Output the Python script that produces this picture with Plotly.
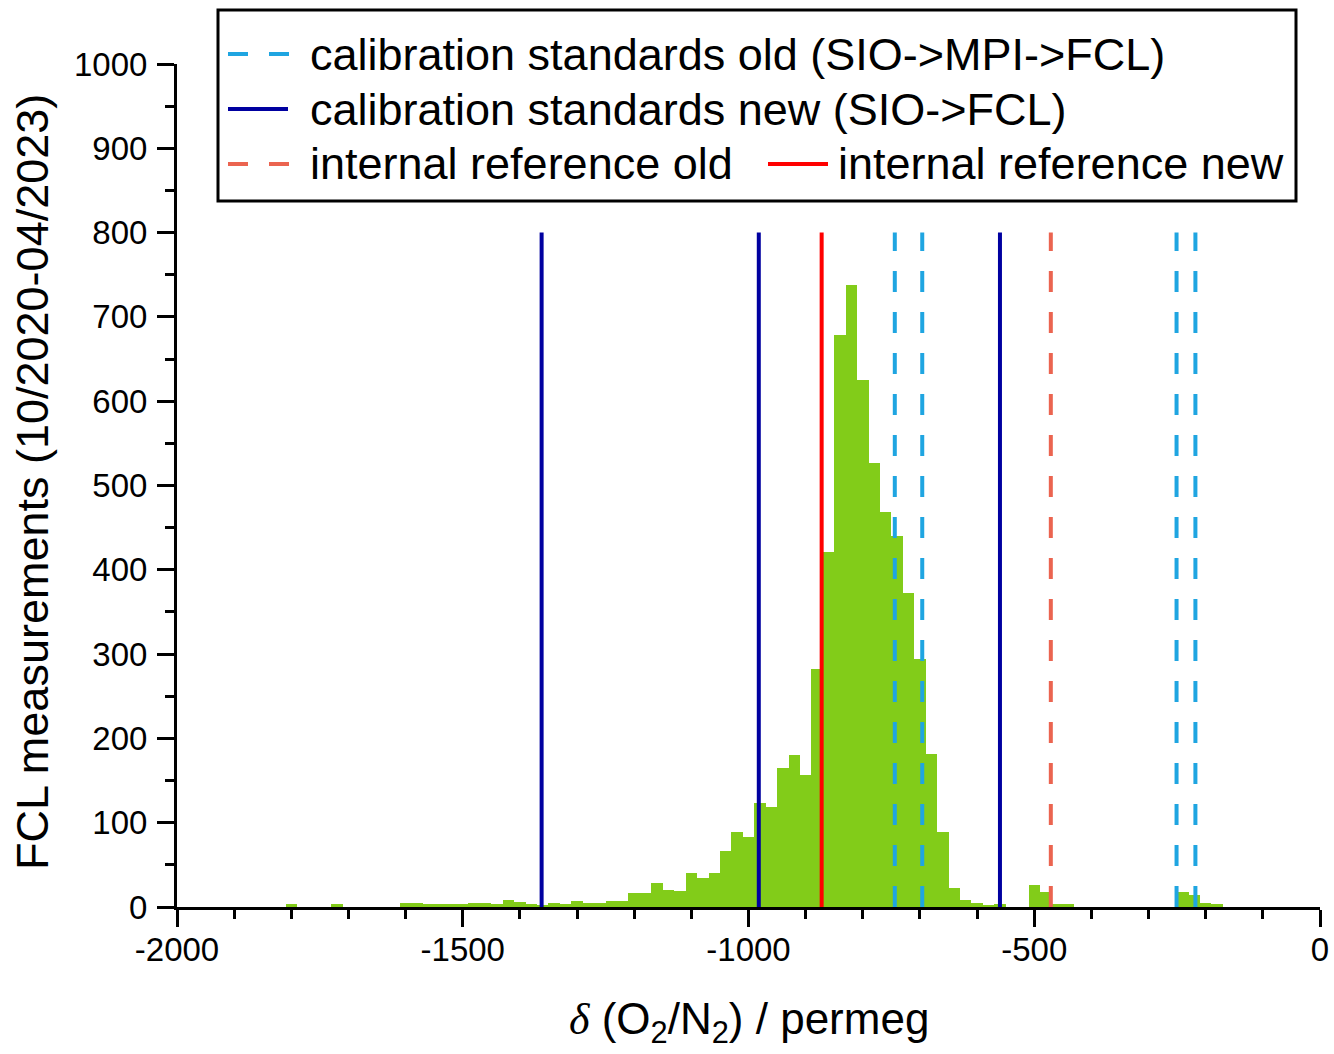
import plotly.graph_objects as go

# ---------------- data ----------------
bin_centers = [-1800, -1720, -1600, -1580, -1560, -1540, -1520, -1500, -1480, -1460,
               -1440, -1420, -1400, -1380, -1360, -1340, -1320, -1300, -1280, -1260,
               -1240, -1220, -1200, -1180, -1160, -1140, -1120, -1100, -1080, -1060,
               -1040, -1020, -1000, -980, -960, -940, -920, -900, -880, -860,
               -840, -820, -800, -780, -760, -740, -720, -700, -680, -660,
               -640, -620, -600, -580, -560, -500, -480, -460, -440,
               -240, -220, -200, -180]
counts = [3, 3, 5, 5, 3, 3, 3, 3, 5, 5,
          3, 8, 6, 3, 2, 5, 4, 7, 5, 5,
          7, 7, 17, 17, 29, 20, 19, 40, 35, 40,
          67, 89, 83, 123, 119, 165, 180, 156, 282, 421,
          678, 738, 625, 527, 469, 440, 373, 294, 182, 89,
          23, 8, 5, 2, 3, 26, 18, 3, 3,
          18, 14, 5, 3]
bin_width = 20

cal_old = [-744, -696, -251, -218]      # calibration standards old (SIO->MPI->FCL)
cal_new = [-1362, -982, -560]           # calibration standards new (SIO->FCL)
ref_old = [-471]                        # internal reference old
ref_new = [-872]                        # internal reference new
line_top = 800

x_tickvals = [-2000, -1500, -1000, -500, 0]
x_ticktext = ["-2000", "-1500", "-1000", "-500", "0"]
y_tickvals = [0, 100, 200, 300, 400, 500, 600, 700, 800, 900, 1000]
y_ticktext = [str(v) for v in y_tickvals]

legend_labels = ["calibration standards old (SIO->MPI->FCL)",
                 "calibration standards new (SIO->FCL)",
                 "internal reference old",
                 "internal reference new"]

# ---------------- style ----------------
GREEN = "#82CC19"
LIGHTBLUE = "#1FA5E1"
NAVY = "#0000A0"
SALMON = "#EB6450"
RED = "#FF0000"
FONT = "Liberation Sans, Arial, sans-serif"
DASH = "21px,20px"

W, H = 1334, 1054
ML, MR, MT, MB = 177, 14, 64, 147
PW, PH = W - ML - MR, H - MT - MB


def px_x(p):
    return (p - ML) / PW


def px_y(p):
    return (H - MB - p) / PH


fig = go.Figure()
fig.add_trace(go.Bar(x=bin_centers, y=counts, width=bin_width,
                     marker=dict(color=GREEN, line=dict(width=0)),
                     showlegend=False))


def vlines(vals, color, dash):
    for v in vals:
        fig.add_trace(go.Scatter(x=[v, v], y=[0, line_top], mode="lines",
                                 line=dict(color=color, width=4, dash=dash),
                                 showlegend=False, hoverinfo="skip"))


vlines(cal_new, NAVY, "solid")
vlines(ref_new, RED, "solid")
vlines(cal_old, LIGHTBLUE, DASH)
vlines(ref_old, SALMON, DASH)

# ---------------- manual legend ----------------
shapes = [dict(type="rect", xref="paper", yref="paper",
               x0=px_x(218), x1=px_x(1296), y0=px_y(201), y1=px_y(10),
               line=dict(color="black", width=3), fillcolor="white", layer="above")]
annotations = []
legend_items = [
    (legend_labels[0], LIGHTBLUE, "dash", 228, 308, 54),
    (legend_labels[1], NAVY, "solid", 228, 308, 109),
    (legend_labels[2], SALMON, "dash", 228, 308, 164),
    (legend_labels[3], RED, "solid", 768, 836, 164),
]
for text, color, style, lx, tx, ry in legend_items:
    if style == "dash":
        for a, b in [(lx, lx + 20), (lx + 41, lx + 61)]:
            shapes.append(dict(type="line", xref="paper", yref="paper",
                               x0=px_x(a), x1=px_x(b), y0=px_y(ry), y1=px_y(ry),
                               line=dict(color=color, width=4), layer="above"))
    else:
        shapes.append(dict(type="line", xref="paper", yref="paper",
                           x0=px_x(lx), x1=px_x(lx + 60), y0=px_y(ry), y1=px_y(ry),
                           line=dict(color=color, width=4), layer="above"))
    annotations.append(dict(text=text, xref="paper", yref="paper",
                            x=px_x(tx), y=px_y(ry), xanchor="left", yanchor="middle",
                            showarrow=False, font=dict(family=FONT, size=45, color="black")))

# axis titles
annotations.append(dict(text="FCL measurements (10/2020-04/2023)", xref="paper", yref="paper",
                        x=px_x(33), y=px_y(482), xanchor="center", yanchor="middle",
                        textangle=-90, showarrow=False,
                        font=dict(family=FONT, size=45, color="black")))
annotations.append(dict(text='<span style="font-family:Liberation Serif"><i>δ</i></span> (O<sub>2</sub>/N<sub>2</sub>) / permeg',
                        xref="paper", yref="paper",
                        x=px_x(749), y=px_y(1022), xanchor="center", yanchor="middle",
                        showarrow=False, font=dict(family=FONT, size=44, color="black")))

fig.update_layout(
    width=W, height=H, autosize=False,
    margin=dict(l=ML, r=MR, t=MT, b=MB, autoexpand=False),
    paper_bgcolor="white", plot_bgcolor="white",
    bargap=0,
    shapes=shapes, annotations=annotations,
    font=dict(family=FONT, color="black"),
)
fig.update_xaxes(range=[-2000, 0], showgrid=False, zeroline=False, automargin=False,
                 showline=True, linecolor="black", linewidth=3,
                 ticks="outside", ticklen=17, tickwidth=3, tickcolor="black",
                 tickvals=x_tickvals, ticktext=x_ticktext, ticklabelstandoff=-6,
                 tickfont=dict(family=FONT, size=33, color="black"),
                 minor=dict(dtick=100, tick0=0, ticks="outside", ticklen=9,
                            tickwidth=3, tickcolor="black", showgrid=False))
fig.update_yaxes(range=[0, 1000], showgrid=False, zeroline=False, automargin=False,
                 showline=True, linecolor="black", linewidth=3,
                 ticks="outside", ticklen=17, tickwidth=3, tickcolor="black",
                 tickvals=y_tickvals, ticktext=y_ticktext, ticklabelstandoff=3,
                 tickfont=dict(family=FONT, size=33, color="black"),
                 minor=dict(dtick=50, tick0=0, ticks="outside", ticklen=9,
                            tickwidth=3, tickcolor="black", showgrid=False))

fig.write_html("out.html", config={"responsive": False})
